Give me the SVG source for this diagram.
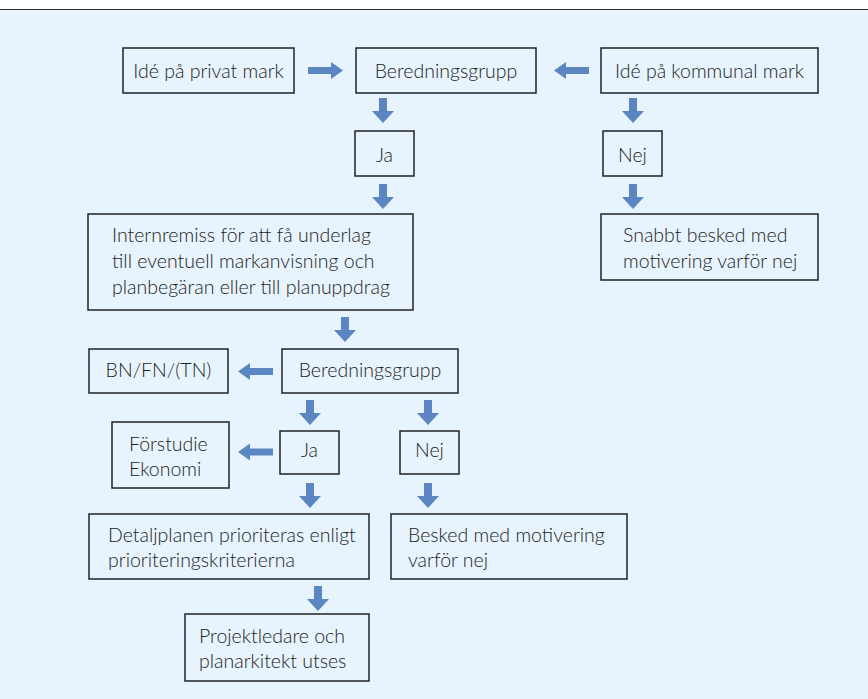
<svg xmlns="http://www.w3.org/2000/svg" width="868" height="699" viewBox="0 0 868 699">
<defs>
<style>
.bg{fill:#e8f4fd}
.box{fill:none;stroke:#222;stroke-width:1.5}
.t{font-family:Lato,"Open Sans",sans-serif;font-size:19.5px;font-weight:300;fill:#222}
.c{text-anchor:middle}
.arr{fill:#5b86c1}
</style>
<path id="ad" d="M-4,0 H4 V13 H11 L0,25 L-11,13 H-4 Z"/>
<path id="ar" d="M0,-3.5 H23 V-8.5 L35,0 L23,8.5 V3.5 H0 Z"/>
</defs>
<rect x="0" y="0" width="868" height="699" fill="#ffffff"/>
<rect class="bg" x="0" y="10" width="868" height="689"/>
<line x1="0" y1="9.5" x2="868" y2="9.5" stroke="#333" stroke-width="1.2"/>

<g id="connectors">
<use href="#ar" class="arr" transform="translate(308,70.5)"/>
<use href="#ar" class="arr" transform="translate(589,70.5) scale(-1,1)"/>
<use href="#ad" class="arr" transform="translate(383,98)"/>
<use href="#ad" class="arr" transform="translate(383,184)"/>
<use href="#ad" class="arr" transform="translate(633,98)"/>
<use href="#ad" class="arr" transform="translate(633,184)"/>
<use href="#ad" class="arr" transform="translate(345,317)"/>
<use href="#ar" class="arr" transform="translate(273,371.5) scale(-1,1)"/>
<use href="#ad" class="arr" transform="translate(310,400)"/>
<use href="#ad" class="arr" transform="translate(428,400)"/>
<use href="#ar" class="arr" transform="translate(273,452) scale(-1,1)"/>
<use href="#ad" class="arr" transform="translate(310,483)"/>
<use href="#ad" class="arr" transform="translate(428,483)"/>
<use href="#ad" class="arr" transform="translate(318,586)"/>
</g>

<g id="privat"><rect class="box" x="123" y="48" width="171" height="45"/><text class="t c" x="208.5" y="78">Idé på privat mark</text></g>
<g id="bered1"><rect class="box" x="356" y="48" width="180" height="45"/><text class="t c" x="446" y="78">Beredningsgrupp</text></g>
<g id="kommunal"><rect class="box" x="601" y="48" width="217" height="45"/><text class="t c" x="709.5" y="78">Idé på kommunal mark</text></g>
<g id="ja1"><rect class="box" x="355" y="131" width="59" height="45"/><text class="t c" x="384.5" y="162">Ja</text></g>
<g id="nej1"><rect class="box" x="603" y="131" width="59" height="45"/><text class="t c" x="632.5" y="162">Nej</text></g>
<g id="snabbt"><rect class="box" x="601" y="214" width="217" height="66"/><text class="t" x="623" y="242">Snabbt besked med</text><text class="t" x="623" y="268">motivering varför nej</text></g>
<g id="internremiss"><rect class="box" x="88" y="214" width="325" height="96"/><text class="t" x="112" y="242">Internremiss för att få underlag</text><text class="t" x="112" y="268">till eventuell markanvisning och</text><text class="t" x="112" y="294">planbegäran eller till planuppdrag</text></g>
<g id="bnfn"><rect class="box" x="89" y="349" width="139" height="44"/><text class="t c" x="158.5" y="377">BN/FN/(TN)</text></g>
<g id="bered2"><rect class="box" x="282" y="349" width="176" height="44"/><text class="t c" x="370" y="377">Beredningsgrupp</text></g>
<g id="forstudie"><rect class="box" x="112" y="422" width="117" height="66"/><text class="t" x="129" y="451">Förstudie</text><text class="t" x="129" y="476">Ekonomi</text></g>
<g id="ja2"><rect class="box" x="280" y="431" width="59" height="43"/><text class="t c" x="309.5" y="457">Ja</text></g>
<g id="nej2"><rect class="box" x="400" y="431" width="59" height="43"/><text class="t c" x="429.5" y="457">Nej</text></g>
<g id="detaljplan"><rect class="box" x="89" y="514" width="280" height="65"/><text class="t" x="108" y="542">Detaljplanen prioriteras enligt</text><text class="t" x="108" y="567">prioriteringskriterierna</text></g>
<g id="besked"><rect class="box" x="391" y="514" width="236" height="65"/><text class="t" x="408" y="542">Besked med motivering</text><text class="t" x="408" y="567">varför nej</text></g>
<g id="projekt"><rect class="box" x="185" y="614" width="184" height="67"/><text class="t" x="199" y="643">Projektledare och</text><text class="t" x="199" y="668">planarkitekt utses</text></g>
</svg>
